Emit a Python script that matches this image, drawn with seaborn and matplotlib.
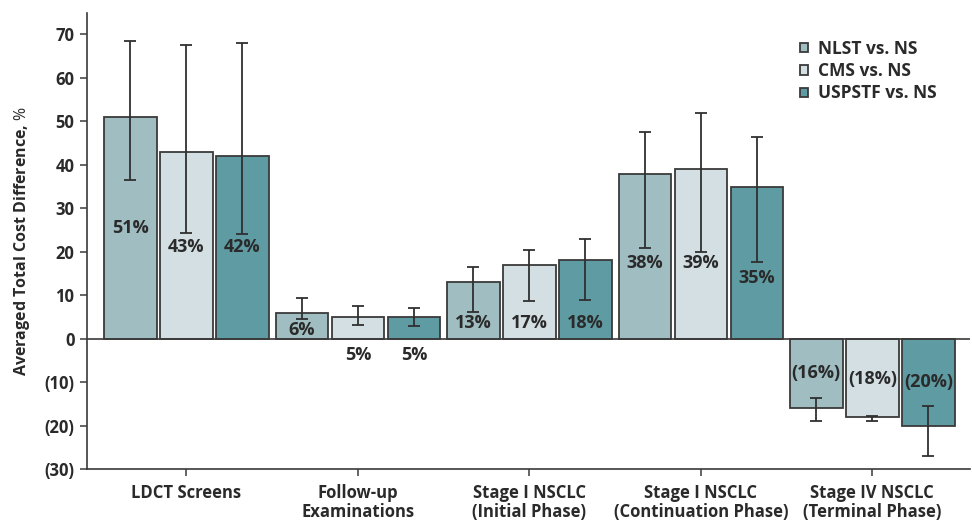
import matplotlib
matplotlib.use("Agg")
import matplotlib.pyplot as plt
import numpy as np
import pandas as pd
import seaborn as sns

# Cost categories and comparison series
categories = [
    "LDCT Screens",
    "Follow-up\nExaminations",
    "Stage I NSCLC\n(Initial Phase)",
    "Stage I NSCLC\n(Continuation Phase)",
    "Stage IV NSCLC\n(Terminal Phase)",
]
series = ["NLST vs. NS", "CMS vs. NS", "USPSTF vs. NS"]

# Averaged total cost difference (%) per category
nlst = [51, 6, 13, 38, -16]
cms = [43, 5, 17, 39, -18]
uspstf = [42, 5, 18, 35, -20]

# Interval bounds (%)
nlst_low = [36.5, 4.5, 6.1, 20.9, -19.0]
nlst_high = [68.4, 9.4, 16.4, 47.5, -13.7]
cms_low = [24.4, 3.1, 8.6, 19.9, -19.0]
cms_high = [67.5, 7.6, 20.5, 51.9, -17.7]
uspstf_low = [24.0, 2.8, 9.0, 17.7, -27.0]
uspstf_high = [68.0, 7.0, 22.9, 46.4, -15.5]

yticks = [70, 60, 50, 40, 30, 20, 10, 0, -10, -20, -30]
ytick_labels = ["70", "60", "50", "40", "30", "20", "10", "0", "(10)", "(20)", "(30)"]

values = [nlst, cms, uspstf]
lows = [nlst_low, cms_low, uspstf_low]
highs = [nlst_high, cms_high, uspstf_high]

df = pd.DataFrame({
    "category": np.tile(categories, len(series)),
    "series": np.repeat(series, len(categories)),
    "value": np.concatenate(values),
})

sns.set_style("white")
plt.rcParams["font.family"] = ["Open Sans", "DejaVu Sans"]
plt.rcParams["mathtext.fontset"] = "custom"
plt.rcParams["mathtext.it"] = "Open Sans:italic"
plt.rcParams["mathtext.rm"] = "Open Sans"

text_color = "#2a2a2a"
edge_color = "#3a3a3a"
palette = ["#a0bdc1", "#d4dfe3", "#5f9ba2"]

fig = plt.figure(figsize=(9.72, 5.25), dpi=100)
ax = fig.add_axes([0.0895, 0.1067, 0.9085, 0.869])

sns.barplot(
    data=df, x="category", y="value", hue="series",
    order=categories, hue_order=series, palette=palette,
    width=0.98, gap=0.06, errorbar=None,
    edgecolor=edge_color, linewidth=1.3, saturation=1, ax=ax,
)

# Text placement (data y) for each value label
label_y = [
    [25.5, 2.1, 3.7, 17.4, -7.8],
    [21.0, -3.7, 3.7, 17.4, -9.2],
    [21.0, -3.7, 3.7, 14.0, -9.9],
]

bar_containers = list(ax.containers)
for i, cont in enumerate(bar_containers):
    xs = [b.get_x() + b.get_width() / 2 for b in cont]
    v = np.array(values[i], dtype=float)
    lo = v - np.array(lows[i])
    hi = np.array(highs[i]) - v
    ax.errorbar(xs, v, yerr=[lo, hi], fmt="none", ecolor="#303030",
                elinewidth=1.3, capsize=4, capthick=1.3, zorder=4)
    for x, val, ly in zip(xs, values[i], label_y[i]):
        txt = f"{val:.0f}%" if val >= 0 else f"({-val:.0f}%)"
        ax.text(x, ly, txt, ha="center", va="center", fontsize=13,
                fontweight="bold", color=text_color, zorder=5)

ax.axhline(0, color="#3a3a3a", linewidth=1.2, zorder=3)

ax.set_xlim(-0.58, 4.57)
ax.set_ylim(-30, 75)
ax.set_yticks(yticks)
ax.set_yticklabels(ytick_labels)
ax.set_xlabel("")
ax.set_ylabel("Averaged Total Cost Difference, $\\mathit{\\%}$",
              fontsize=11.5, fontweight="bold", color=text_color)
ax.yaxis.set_label_coords(-0.062, 0.5)

for lab in ax.get_xticklabels() + ax.get_yticklabels():
    lab.set_fontweight("bold")
    lab.set_color(text_color)
    lab.set_fontsize(12)
for lab in ax.get_xticklabels():
    lab.set_linespacing(1.05)

ax.tick_params(axis="both", which="both", direction="out", length=5,
               width=1.1, color="#3a3a3a", bottom=True, left=True)
ax.tick_params(axis="x", pad=6)
ax.tick_params(axis="y", pad=4)

sns.despine(ax=ax, top=True, right=True)
for side in ("left", "bottom"):
    ax.spines[side].set_color("#3a3a3a")
    ax.spines[side].set_linewidth(1.2)

leg = ax.legend(
    loc="upper left", bbox_to_anchor=(0.79, 0.975), frameon=False,
    handlelength=0.45, handleheight=0.45, handletextpad=0.6,
    labelspacing=0.25, prop={"weight": "bold", "size": 12.5},
)
for t in leg.get_texts():
    t.set_color(text_color)
for h in leg.legend_handles:
    h.set_edgecolor(edge_color)
    h.set_linewidth(1.3)

fig.savefig("out.png", dpi=100)
